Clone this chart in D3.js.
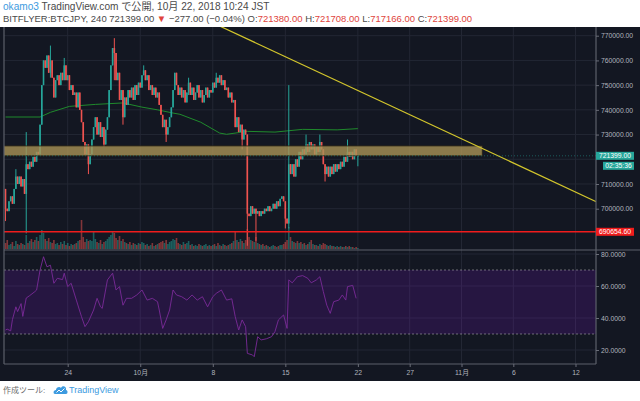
<!DOCTYPE html>
<html>
<head>
<meta charset="utf-8">
<script src="https://cdn.jsdelivr.net/npm/d3@7"></script>
<style>
  body { margin: 0; background: #fff; }
  svg { display: block; font-family: "Liberation Sans", "Noto Sans CJK JP", sans-serif; }
</style>
</head>
<body>
<svg id="chart" width="640" height="401"></svg>
<script>
// BTC/JPY 4h candles, prices in thousand JPY, first candle 2018-09-18 00:00
const firstOpen = 708;
const closes = [
  700,699,703,705,702,708,713,710,713,709,
  712,706,718,716,719,717,721,719,723,722,
  734,750,760,757,762,755,760,753,745,752,
  754,750,755,752,758,752,754,748,750,746,
  747,741,747,740,735,727,722,726,718,722,
  728,733,737,730,735,729,733,726,732,737,
  748,758,765,763,752,755,744,748,737,745,
  742,748,745,749,744,750,746,751,749,754,
  756,752,754,748,750,746,749,745,747,742,
  738,733,736,730,733,737,741,748,755,750,
  746,749,745,748,743,747,751,746,749,744,
  747,750,745,748,743,746,749,745,748,747,
  751,749,753,751,754,750,752,748,749,745,
  747,743,744,733,737,731,734,728,732,730,
  698,697,701,698,700,698,699,697,699,698,
  700,699,701,699,700,702,700,703,701,704,
  705,703,696,694,718,714,718,713,720,717,
  723,720,724,722,726,723,727,724,726,722,
  725,723,727,724,718,714,717,713,717,714,
  718,715,718,716,719,717,721,719,723,721,
  723,720,724,721.38,721.399
];
// [candle index, high, low] for the wicks that stand out
const wicks = [
  [0,708,695],[6,716,710],[12,731,690],[26,766,753],[34,761,752],[48,726,714],
  [57,733,725],[63,769,752],[68,748,734],[80,758,754],[93,736,727],[106,753,746],
  [122,755,751],[137,734,724],[140,730,685],[145,700,687],[162,703,692],
  [164,750,692],[174,730,722],[182,730,723],[185,718,711],[198,728,719],
  [204,721.708,717.166]
];
const volumes = [
  6,9,4,5,7,3,8,5,4,6, 5,4,14,6,8,10,7,9,12,8, 14,19,16,10,8,11,7,6,9,5,
  6,4,7,5,8,4,6,3,5,4, 5,6,8,9,29,12,7,10,8,9, 8,18,10,7,6,9,5,7,8,10,
  12,14,18,16,11,9,13,8,10,7, 6,5,7,4,6,5,4,6,5,7, 6,4,5,3,4,6,3,4,5,6,
  7,8,6,9,5,7,8,10,9,11, 6,5,4,7,5,6,8,4,5,3, 4,3,5,4,3,4,5,3,4,3,
  4,5,3,6,4,3,5,4,3,4, 5,6,8,18,9,7,10,8,6,9, 20,12,9,8,7,12,6,5,4,5,
  3,4,3,2,3,4,3,2,3,4, 4,5,7,9,22,12,8,7,6,8, 6,7,5,6,4,5,7,9,5,4,
  4,3,5,4,6,5,4,3,4,3, 3,2,3,2,3,2,2,3,2,3, 2,2,1,2,1
];
// moving average, [candle index, price]
const maPoints = [
  [0,737.1],[20,737.1],[26,739],[37,741.4],[52,742.2],[68,742.8],[79,741.1],
  [88,740],[97,738.7],[101,738.2],[113,735],[124,730.6],[128,730.1],[140,731.3],
  [156,731],[172,732.1],[192,731.9],[204,732.4]
];
// RSI, [candle index, value]
const rsiPoints = [
  [0,32.5],[1,33],[3,32],[4,39],[6,47],[7,44],[9,49],[10,41],[12,52.5],[14,54],
  [17,56.5],[18,57.5],[20,70],[22,78.3],[24,72],[26,73],[28,61.7],[30,64.8],[33,64],
  [34,68],[36,59.6],[38,61.7],[41,51.2],[44,40.8],[46,34.6],[48,37.7],[51,45],
  [53,52.3],[55,47],[56,46],[59,63.8],[62,68],[64,57.5],[66,59.6],[68,48],[70,52.3],
  [73,52.3],[76,54.4],[79,57.5],[82,51.2],[85,52.3],[88,50.2],[89,45],[91,33.5],
  [93,38.8],[95,45],[97,57.5],[99,54.4],[102,53.3],[105,51.2],[108,54.4],[111,51.2],
  [114,53.3],[117,47],[120,53.3],[122,55.4],[125,57.5],[128,51.2],[131,52],[133,40.8],
  [135,32.5],[137,38.8],[139,34.6],[140,17.9],[143,16.9],[144,15.8],[146,28.3],
  [148,26.3],[151,27],[154,28.3],[156,31.5],[158,38.8],[161,41.9],[163,33.5],
  [164,63.8],[166,62],[169,65.8],[172,66.5],[175,64.8],[177,62],[180,63.8],[182,65.8],
  [184,56.5],[186,48],[188,42.9],[190,50.2],[193,51.2],[195,54.4],[197,51.2],
  [198,59.6],[201,60.4],[203,52.3]
];
const priceTicks = [700, 710, 720, 730, 740, 750, 760, 770];
const rsiTicks = [20, 40, 60, 80];
const dateTicks = [new Date(2018,8,24), new Date(2018,9,1), new Date(2018,9,8), new Date(2018,9,15),
  new Date(2018,9,22), new Date(2018,9,27), new Date(2018,10,1), new Date(2018,10,6), new Date(2018,10,12)];
const dateLabels = ['24', '10月', '8', '15', '22', '27', '11月', '6', '12'];
const zoneDates = [new Date(2018,8,16), new Date(2018,10,3)];
const zonePrices = [721.4, 725.4];
const trendDates = [new Date(2018,9,8), new Date(2018,10,15)];
const trendPrices = [775.2, 700.9];
const supportLevel = 690.6546;
const lastPrice = 721.399;

const start = new Date(2018,8,18);
const L = 4, R = 596, T = 27, PB = 250, RB = 364;
const up = '#26a69a', down = '#ef5350';

const svg = d3.select('#chart');

const x = d3.scaleTime().domain([dateTicks[0], dateTicks[8]]).range([67.7, 575.5]);
const yP = d3.scaleLinear().domain([700, 770]).range([208.7, 35.7]);
const yV = d3.scaleLinear().domain([0, 50]).range([249, 199]);
const yR = d3.scaleLinear().domain([20, 80]).range([350, 254]);
const dateOf = i => d3.timeHour.offset(start, 4 * i);

const wickMap = new Map(wicks.map(w => [w[0], w]));
const candles = closes.map((c, i) => {
    const o = i ? closes[i - 1] : firstOpen;
    const w = wickMap.get(i);
    return {date: dateOf(i), open: o, close: c,
        high: w ? Math.max(w[1], o, c) : Math.max(o, c),
        low: w ? Math.min(w[2], o, c) : Math.min(o, c),
        vol: volumes[i]};
});

// background
svg.append('rect').attr('x', 0).attr('y', T).attr('width', 640).attr('height', 381 - T).attr('fill', '#131722');

const defs = svg.append('defs');
defs.append('clipPath').attr('id', 'clipP').append('rect')
    .attr('x', L).attr('y', T).attr('width', R - L).attr('height', PB - T);
defs.append('clipPath').attr('id', 'clipR').append('rect')
    .attr('x', L).attr('y', PB).attr('width', R - L).attr('height', RB - PB);

// grid
const grid = svg.append('g').attr('stroke', '#232734').attr('stroke-width', 1);
dateTicks.forEach(d => {
    grid.append('line').attr('x1', x(d)).attr('x2', x(d)).attr('y1', T).attr('y2', RB);
});
priceTicks.forEach(p => {
    grid.append('line').attr('x1', L).attr('x2', R).attr('y1', yP(p)).attr('y2', yP(p));
});
rsiTicks.forEach(v => {
    grid.append('line').attr('x1', L).attr('x2', R).attr('y1', yR(v)).attr('y2', yR(v));
});

const pane = svg.append('g').attr('clip-path', 'url(#clipP)');

// volume
pane.append('g').selectAll('rect').data(candles).join('rect')
    .attr('x', d => x(d.date) - 0.8)
    .attr('width', 1.6)
    .attr('y', d => yV(d.vol))
    .attr('height', d => yV(0) - yV(d.vol))
    .attr('fill', d => d.close >= d.open ? up : down)
    .attr('opacity', 0.5);

// moving average
pane.append('path').datum(maPoints)
    .attr('d', d3.line().x(d => x(dateOf(d[0]))).y(d => yP(d[1])))
    .attr('fill', 'none').attr('stroke', '#1f8a2c').attr('stroke-width', 1);

// candles
const cg = pane.append('g');
cg.selectAll('line').data(candles).join('line')
    .attr('x1', d => x(d.date)).attr('x2', d => x(d.date))
    .attr('y1', d => yP(d.high)).attr('y2', d => yP(d.low))
    .attr('stroke', d => d.close >= d.open ? up : down).attr('stroke-width', 1);
cg.selectAll('rect').data(candles).join('rect')
    .attr('x', d => x(d.date) - 0.8)
    .attr('width', 1.6)
    .attr('y', d => yP(Math.max(d.open, d.close)))
    .attr('height', d => Math.max(0.8, Math.abs(yP(d.open) - yP(d.close))))
    .attr('fill', d => d.close >= d.open ? up : down);

// resistance zone
pane.append('rect')
    .attr('x', x(zoneDates[0])).attr('width', x(zoneDates[1]) - x(zoneDates[0]))
    .attr('y', yP(zonePrices[1])).attr('height', yP(zonePrices[0]) - yP(zonePrices[1]))
    .attr('fill', '#aa9356').attr('fill-opacity', 0.8)
    .attr('stroke', '#2a2414').attr('stroke-width', 0.8);

// trend line
pane.append('line')
    .attr('x1', x(trendDates[0])).attr('y1', yP(trendPrices[0]))
    .attr('x2', x(trendDates[1])).attr('y2', yP(trendPrices[1]))
    .attr('stroke', '#d2c52c').attr('stroke-width', 1.2);

// support line and last price line
pane.append('line').attr('x1', L).attr('x2', R).attr('y1', yP(supportLevel)).attr('y2', yP(supportLevel))
    .attr('stroke', '#f01c1c').attr('stroke-width', 1.4);
pane.append('line').attr('x1', L).attr('x2', R).attr('y1', yP(lastPrice)).attr('y2', yP(lastPrice))
    .attr('stroke', up).attr('stroke-width', 0.8).attr('stroke-dasharray', '1,2').attr('opacity', 0.6);

// RSI pane
const rp = svg.append('g').attr('clip-path', 'url(#clipR)');
rp.append('rect').attr('x', L).attr('width', R - L).attr('y', yR(70)).attr('height', yR(30) - yR(70))
    .attr('fill', '#9915ff').attr('fill-opacity', 0.14);
[70, 30].forEach(v => {
    rp.append('line').attr('x1', L).attr('x2', R).attr('y1', yR(v)).attr('y2', yR(v))
        .attr('stroke', '#c0c0c0').attr('stroke-opacity', 0.5).attr('stroke-dasharray', '2,2');
});
rp.append('path').datum(rsiPoints)
    .attr('d', d3.line().x(d => x(dateOf(d[0]))).y(d => yR(d[1])))
    .attr('fill', 'none').attr('stroke', '#7a2a98').attr('stroke-width', 0.9);

// frame
const frame = svg.append('g').attr('stroke', '#5d606b').attr('stroke-width', 1.2);
frame.append('line').attr('x1', L).attr('x2', L).attr('y1', T).attr('y2', RB);
frame.append('line').attr('x1', R).attr('x2', R).attr('y1', T).attr('y2', RB);
frame.append('line').attr('x1', L).attr('x2', 640).attr('y1', PB).attr('y2', PB);
frame.append('line').attr('x1', L).attr('x2', R).attr('y1', RB).attr('y2', RB);

// axes; the 720000 label sits under the last price tag, as in TradingView
const styleAxis = g => {
    g.select('.domain').remove();
    g.selectAll('.tick line').attr('stroke', '#6a6d78');
    g.selectAll('.tick text').attr('fill', '#b2b5be').style('font-size', '6.8px')
        .style('font-family', '"Liberation Sans", "Noto Sans CJK JP", sans-serif');
};
svg.append('g').attr('transform', `translate(${R},0)`)
    .call(d3.axisRight(yP).tickValues(priceTicks.filter(p => Math.abs(yP(p) - yP(lastPrice)) > 8))
        .tickSize(3).tickPadding(2).tickFormat(d => (d * 1000).toFixed(2)))
    .call(styleAxis);
svg.append('g').attr('transform', `translate(${R},0)`)
    .call(d3.axisRight(yR).tickValues(rsiTicks).tickSize(3).tickPadding(2)
        .tickFormat(d => d.toFixed(4)))
    .call(styleAxis);
svg.append('g').attr('transform', `translate(0,${RB})`)
    .call(d3.axisBottom(x).tickValues(dateTicks).tickSize(3).tickPadding(3)
        .tickFormat((d, i) => dateLabels[i]))
    .call(styleAxis);

// price labels on the axis
const tag = (y, w, x0, fill, text) => {
    svg.append('rect').attr('x', x0).attr('y', y - 4).attr('width', w).attr('height', 8).attr('fill', fill);
    svg.append('text').attr('x', x0 + w / 2).attr('y', y + 2.4).attr('text-anchor', 'middle')
        .attr('fill', '#fff').style('font-size', '6.8px').text(text);
};
tag(yP(lastPrice), 38, R, up, (lastPrice * 1000).toFixed(2));
tag(yP(lastPrice) + 10, 31, 603, up, '02:35:36');
tag(yP(supportLevel), 38, R, '#f01c1c', (supportLevel * 1000).toFixed(2));

// header
const h1 = svg.append('text').attr('x', 3).attr('y', 9.5).style('font-size', '10.1px').attr('fill', '#4a4a4a');
h1.append('tspan').attr('fill', '#3d9be0').text('okamo3');
h1.append('tspan').text(' TradingView.com で公開, 10月 22, 2018 10:24 JST');

const h2 = svg.append('text').attr('x', 3).attr('y', 21.5).style('font-size', '9.5px').attr('fill', '#4a4a4a');
const red = '#e0443c';
[['BITFLYER:BTCJPY, 240 721399.00 ', null], ['▼', red], [' −277.00 (−0.04%) O:', null],
 ['721380.00', red], [' H:', null], ['721708.00', red], [' L:', null], ['717166.00', red],
 [' C:', null], ['721399.00', red]].forEach(([t, c]) => {
    const s = h2.append('tspan').text(t);
    if (c) s.attr('fill', c);
});

// footer
svg.append('text').attr('x', 3).attr('y', 393).style('font-size', '8px').attr('fill', '#6b6b6b')
    .text('作成ツール:');
const logo = svg.append('g').attr('transform', 'translate(54,385)');
logo.append('path')
    .attr('d', 'M1,9 C-1,9 -1,5 2,5 C2,2 6,1 7,3 C8,0 13,1 12,5 C14,5 14,9 12,9 Z')
    .attr('fill', '#3d9be0');
logo.append('polyline').attr('points', '2.5,7.5 5,5 7,7 10.5,3.5')
    .attr('fill', 'none').attr('stroke', '#fff').attr('stroke-width', 1);
svg.append('text').attr('x', 69).attr('y', 393).style('font-size', '9px').attr('fill', '#3d9be0')
    .text('TradingView');
</script>
</body>
</html>
